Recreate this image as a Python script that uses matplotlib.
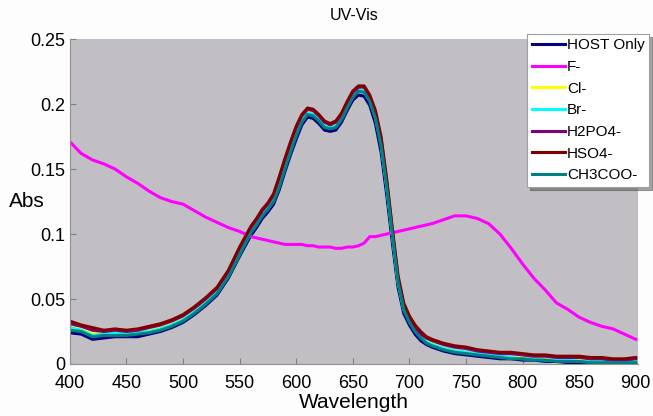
import numpy as np
import matplotlib
matplotlib.use("Agg")
import matplotlib.pyplot as plt

plt.rcParams["font.family"] = ["Liberation Sans", "DejaVu Sans"]

# wavelength grid (nm): 10 nm steps, 5 nm around the bands
wavelength = list(range(400, 560, 10)) + list(range(560, 720, 5)) + list(range(720, 901, 10))

host = [0.024, 0.023, 0.019, 0.020, 0.021, 0.021, 0.021, 0.023, 0.025, 0.028, 0.032, 0.038, 0.045, 0.053, 0.066, 0.083,
        0.099, 0.105, 0.112, 0.117, 0.123, 0.134, 0.148, 0.161, 0.173, 0.184, 0.190, 0.189, 0.185, 0.180, 0.179, 0.180,
        0.186, 0.195, 0.203, 0.207, 0.206, 0.199, 0.185, 0.163, 0.130, 0.093, 0.059, 0.039, 0.030, 0.023, 0.018, 0.015,
        0.013, 0.010, 0.008, 0.007, 0.006, 0.005, 0.004, 0.004, 0.003, 0.003, 0.002, 0.002, 0.001, 0.001, 0.001, 0.001,
        0.000, 0.000, 0.000]
fluoride = [0.171, 0.162, 0.157, 0.154, 0.150, 0.144, 0.139, 0.133, 0.128, 0.125, 0.123, 0.118, 0.113, 0.109, 0.105, 0.102,
            0.098, 0.097, 0.096, 0.095, 0.094, 0.093, 0.092, 0.092, 0.092, 0.092, 0.091, 0.091, 0.090, 0.090, 0.090, 0.089,
            0.089, 0.090, 0.090, 0.091, 0.093, 0.098, 0.098, 0.099, 0.100, 0.101, 0.102, 0.103, 0.104, 0.105, 0.106, 0.107,
            0.108, 0.111, 0.114, 0.114, 0.112, 0.108, 0.100, 0.089, 0.077, 0.066, 0.057, 0.047, 0.042, 0.036, 0.032, 0.029,
            0.027, 0.023, 0.019]
chloride = [0.030, 0.027, 0.024, 0.024, 0.025, 0.024, 0.025, 0.026, 0.028, 0.031, 0.035, 0.041, 0.048, 0.056, 0.069, 0.086,
            0.103, 0.109, 0.116, 0.121, 0.128, 0.140, 0.154, 0.167, 0.179, 0.190, 0.196, 0.195, 0.190, 0.185, 0.183, 0.185,
            0.191, 0.200, 0.208, 0.213, 0.212, 0.205, 0.192, 0.171, 0.137, 0.100, 0.064, 0.043, 0.034, 0.027, 0.022, 0.018,
            0.016, 0.012, 0.010, 0.009, 0.008, 0.007, 0.006, 0.005, 0.005, 0.004, 0.004, 0.003, 0.003, 0.003, 0.002, 0.002,
            0.002, 0.002, 0.002]
bromide = [0.028, 0.026, 0.022, 0.023, 0.024, 0.023, 0.024, 0.025, 0.027, 0.030, 0.034, 0.040, 0.047, 0.055, 0.068, 0.085,
           0.102, 0.108, 0.115, 0.120, 0.126, 0.138, 0.152, 0.165, 0.177, 0.188, 0.193, 0.192, 0.188, 0.183, 0.182, 0.183,
           0.189, 0.198, 0.206, 0.211, 0.210, 0.203, 0.190, 0.169, 0.136, 0.099, 0.063, 0.042, 0.033, 0.026, 0.021, 0.017,
           0.015, 0.012, 0.010, 0.009, 0.008, 0.007, 0.006, 0.005, 0.004, 0.004, 0.003, 0.003, 0.003, 0.002, 0.002, 0.002,
           0.002, 0.002, 0.002]
h2po4 = [0.031, 0.029, 0.026, 0.025, 0.026, 0.025, 0.026, 0.028, 0.030, 0.033, 0.037, 0.043, 0.050, 0.058, 0.071, 0.089,
         0.105, 0.111, 0.118, 0.123, 0.130, 0.143, 0.157, 0.170, 0.182, 0.191, 0.196, 0.195, 0.191, 0.186, 0.184, 0.186,
         0.192, 0.201, 0.209, 0.213, 0.213, 0.206, 0.194, 0.173, 0.140, 0.102, 0.066, 0.045, 0.036, 0.028, 0.023, 0.020,
         0.018, 0.015, 0.013, 0.012, 0.010, 0.009, 0.008, 0.008, 0.007, 0.006, 0.006, 0.005, 0.005, 0.005, 0.004, 0.004,
         0.003, 0.003, 0.004]
hso4 = [0.033, 0.030, 0.028, 0.026, 0.027, 0.026, 0.027, 0.029, 0.031, 0.034, 0.038, 0.044, 0.051, 0.059, 0.072, 0.090,
        0.106, 0.112, 0.119, 0.124, 0.131, 0.144, 0.158, 0.171, 0.183, 0.192, 0.197, 0.196, 0.192, 0.187, 0.185, 0.187,
        0.193, 0.202, 0.210, 0.214, 0.214, 0.207, 0.195, 0.175, 0.142, 0.104, 0.068, 0.047, 0.037, 0.030, 0.025, 0.021,
        0.019, 0.016, 0.014, 0.013, 0.011, 0.010, 0.009, 0.009, 0.008, 0.007, 0.007, 0.006, 0.006, 0.006, 0.005, 0.005,
        0.004, 0.004, 0.005]
acetate = [0.026, 0.025, 0.021, 0.022, 0.022, 0.022, 0.023, 0.024, 0.026, 0.029, 0.033, 0.039, 0.046, 0.054, 0.067, 0.084,
           0.101, 0.107, 0.114, 0.119, 0.125, 0.136, 0.150, 0.163, 0.176, 0.186, 0.192, 0.191, 0.187, 0.182, 0.181, 0.182,
           0.188, 0.197, 0.205, 0.210, 0.209, 0.202, 0.189, 0.168, 0.136, 0.099, 0.063, 0.042, 0.032, 0.025, 0.020, 0.016,
           0.014, 0.011, 0.009, 0.008, 0.007, 0.006, 0.005, 0.004, 0.004, 0.003, 0.003, 0.002, 0.002, 0.002, 0.001, 0.001,
           0.001, 0.001, 0.001]

labels = ["HOST Only", "F-", "Cl-", "Br-", "H2PO4-", "HSO4-", "CH3COO-"]
series = [host, fluoride, chloride, bromide, h2po4, hso4, acetate]
colors = ["#000080", "#ff00ff", "#ffff00", "#00ffff", "#800080", "#800000", "#008080"]

fig = plt.figure(figsize=(6.53, 4.16), dpi=100, facecolor="#fdfdfd")
ax = fig.add_axes([0.107, 0.125, 0.870, 0.781])
ax.set_facecolor("#c1bfc3")

for y, lab, c in zip(series, labels, colors):
    ax.plot(wavelength, y, color=c, lw=2.2, label=lab, solid_joinstyle="round")

ax.set_xlim(400, 902)
ax.set_ylim(0, 0.25)
ax.set_xticks(np.arange(400, 901, 50))
ax.set_yticks([0, 0.05, 0.1, 0.15, 0.2, 0.25])
ax.set_yticklabels(["0", "0.05", "0.1", "0.15", "0.2", "0.25"])
ax.tick_params(direction="in", length=4, labelsize=13, color="#808080", pad=3)
ax.tick_params(axis="x", pad=8)
for s in ["top", "right"]:
    ax.spines[s].set_visible(False)
for s in ["left", "bottom"]:
    ax.spines[s].set_color("#909090")

ax.set_title("UV-Vis", fontsize=11.5, pad=14)
ax.set_xlabel("Wavelength", fontsize=15, labelpad=1)
ax.set_ylabel("Abs", fontsize=15, rotation=0)
ax.yaxis.set_label_coords(-0.076, 0.47)

leg = ax.legend(loc="upper right", bbox_to_anchor=(1.02, 1.016), fontsize=11,
                frameon=True, fancybox=False, shadow=True, edgecolor="#a0a0a0",
                framealpha=1, handlelength=2.2, handletextpad=0.1,
                labelspacing=0.5, borderpad=0.3, borderaxespad=0)
leg.get_frame().set_linewidth(0.8)

fig.savefig("out.png", dpi=100, facecolor=fig.get_facecolor())
